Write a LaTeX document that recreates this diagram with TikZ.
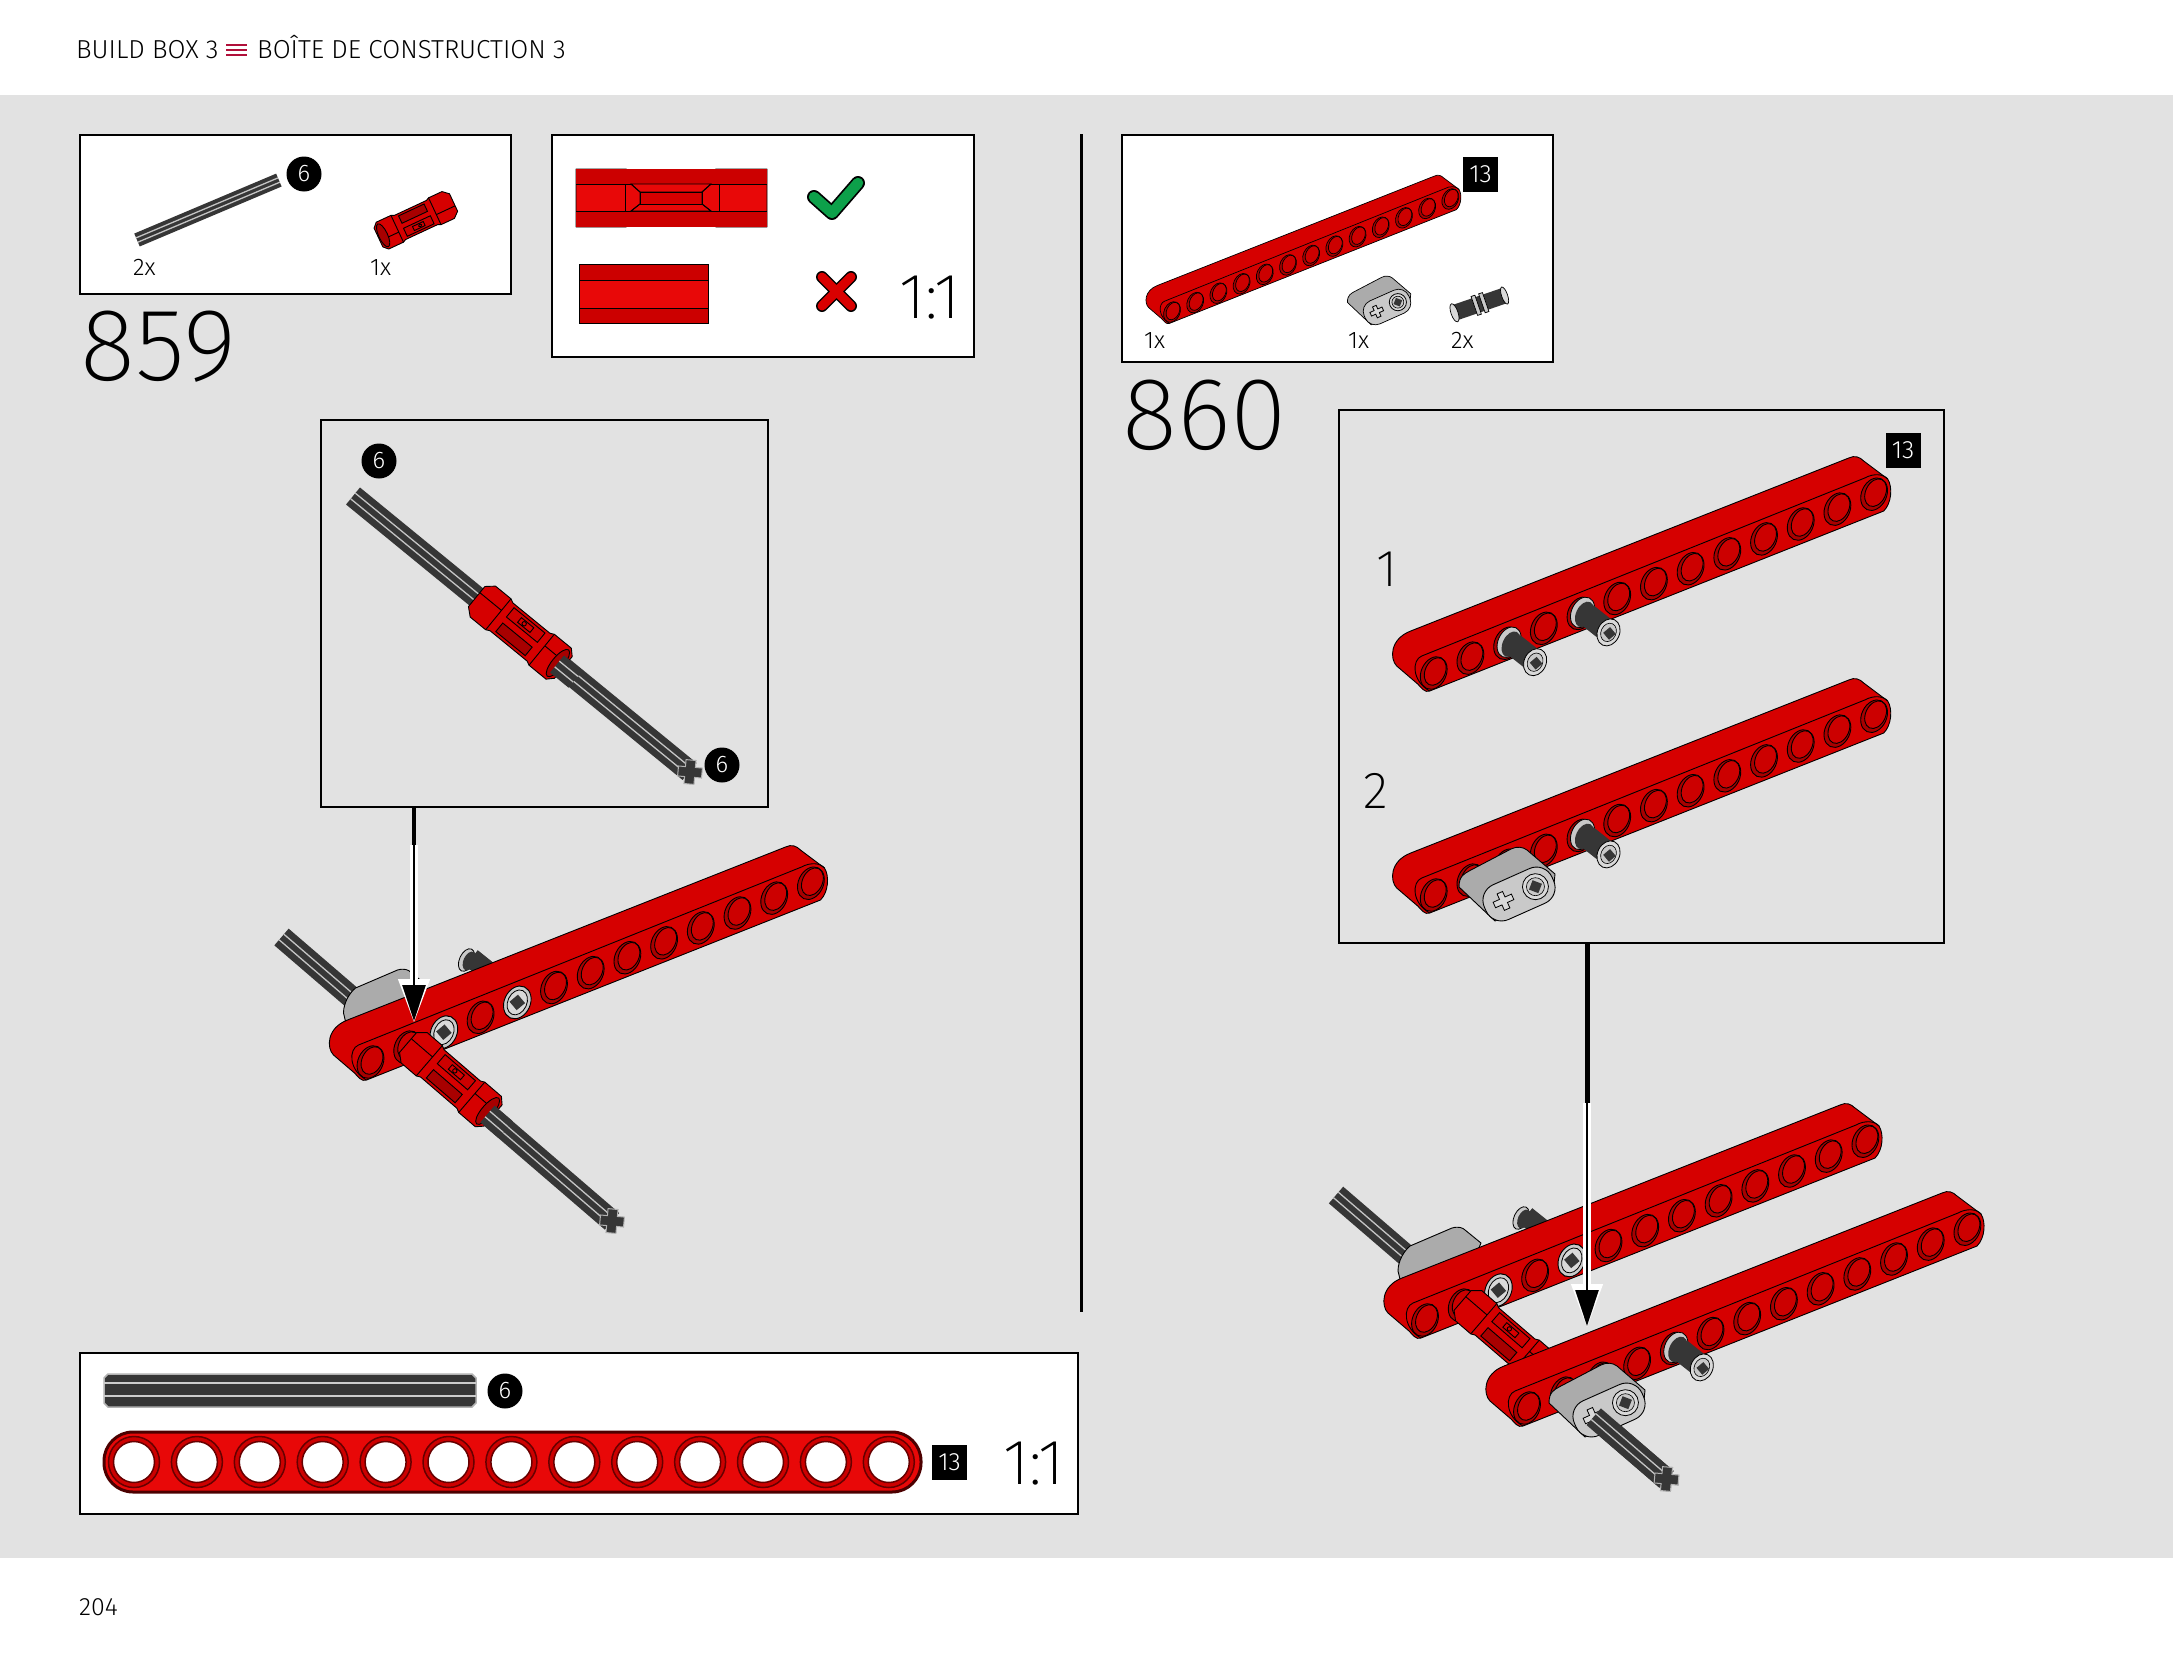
\documentclass[tikz,border=0pt]{standalone}
\usepackage{fontspec}
\usetikzlibrary{arrows.meta,calc}
\newfontfamily\lightf{Fira Sans Light}
\newfontfamily\thinf{Fira Sans ExtraLight}
\definecolor{pagegrey}{HTML}{E2E2E2}
\definecolor{redmain}{HTML}{D60000}
\definecolor{redhole}{HTML}{A80000}
\definecolor{redin}{HTML}{CC0000}
\definecolor{redbright}{HTML}{E80808}
\definecolor{axledark}{HTML}{363636}
\definecolor{axleline}{HTML}{C4C4C4}
\definecolor{greybody}{HTML}{ABABAB}
\definecolor{greyface}{HTML}{C9C9C9}
\definecolor{crimson}{HTML}{B0103A}
\definecolor{checkgreen}{HTML}{0DA04A}
\tikzset{
  ln/.style={line width=.9pt},
  panel/.style={draw=black,fill=white,line width=2.5pt,inner sep=0pt,outer sep=0pt,anchor=north west},
  framebox/.style={draw=black,line width=2.5pt,inner sep=0pt,outer sep=0pt,anchor=north west},
  lab/.style={inner sep=0pt,anchor=base west,text=black},
  circnum/.style={circle,fill=black,text=white,minimum size=35pt,inner sep=0pt,font=\lightf\fontsize{24}{24}\selectfont},
  sqnum/.style={fill=black,text=white,minimum size=35pt,inner sep=0pt,font=\lightf\fontsize{25}{25}\selectfont},
  parttxt/.style={lab,font=\lightf\fontsize{24}{24}\selectfont},
  bigstep/.style={lab,font=\thinf\fontsize{103}{103}\selectfont},
  ratio/.style={lab,font=\thinf\fontsize{64}{64}\selectfont},
  subnum/.style={lab,font=\thinf\fontsize{52}{52}\selectfont},
}
\newcommand\beamhole[2]{%
  \draw[ln,fill=redhole,shift={(#1,#2)},rotate=65] (0,0) ellipse [x radius=17,y radius=12.5];
  \draw[ln,fill=redin,shift={(#1+1.5,#2-1.5)},rotate=65] (0,0) ellipse [x radius=14.5,y radius=10];
}
\newcommand\beampart[3]{%
  \begin{scope}[shift={(#1,#2)},scale=#3]
    \draw[ln,fill=redmain,line join=round]
      (-4,18) .. controls (-9,20) and (-12,15) .. (-16,11) -- (-37,-7)
      .. controls (-44,-14) and (-44,-34) .. (-23,-42) -- (415,-215)
      .. controls (421,-218) and (426,-216) .. (430,-212) -- (454,-194)
      .. controls (459,-186) and (458,-170) .. (450,-162) -- cycle;
    \draw[ln] (-4,18) .. controls (-22,8) and (-22,-13) .. (-12,-17) -- (431,-195)
      .. controls (440,-200) and (450,-199) .. (454,-194);
    \foreach \i in {0,...,12} {\beamhole{\i*36.7}{\i*-14.9}}
  \end{scope}}
\newcommand\pinface[2]{%
  \begin{scope}[shift={(#1,#2)}]
    \draw[ln,fill=greyface,rotate=65] (0,0) ellipse [x radius=17,y radius=13];
    \draw[line width=.8pt,draw=black,fill=white!85!black,rotate=65] (0,0) ellipse [x radius=13,y radius=9.5];
    \fill[axledark,rotate=40] (-5.5,-5.5) rectangle (5.5,5.5);
  \end{scope}}
\newcommand\pinout[2]{%
  \begin{scope}[shift={(#1,#2)}]
    \draw[line width=.8pt,fill=greyface,shift={(2,-1)},rotate=65] (0,0) ellipse [x radius=16,y radius=11];
    \fill[axledark,shift={(4,1)},rotate=65] (0,0) ellipse [x radius=13.5,y radius=8.5];
    \draw[line width=23pt,axledark] (6,1) -- (25,16);
    \draw[line width=.8pt,fill=white!85!black,shift={(28,19)},rotate=65] (0,0) ellipse [x radius=14,y radius=11];
    \draw[line width=.6pt,fill=greyface,shift={(28,19)},rotate=65] (0,0) ellipse [x radius=9.5,y radius=7.5];
    \fill[axledark,shift={(29,20)},rotate=40] (-4.5,-4.5) rectangle (4.5,4.5);
  \end{scope}}
\newcommand\axlebody[5]{%
  \begin{scope}[shift={(#1,#2)},rotate=#3]
    \fill[axledark] (0,-#5/2) rectangle (#4,#5/2);
    \draw[line width=1.3pt,draw=axleline] (0,-#5/6) -- (#4,-#5/6) (0,#5/6) -- (#4,#5/6);
  \end{scope}}
\newcommand\axlecross[4]{%
  \begin{scope}[shift={(#1,#2)},rotate=#3,scale=#4]
    \draw[line width=1pt,draw=white!70!black,fill=axledark]
      (-5,-5) -- (-5,-12) -- (5,-12) -- (5,-5) -- (12,-5) -- (12,5) -- (5,5) -- (5,12) -- (-5,12) -- (-5,5) -- (-12,5) -- (-12,-5) -- cycle;
  \end{scope}}
\newcommand\coupling[4]{%
  \begin{scope}[shift={(#1,#2)},rotate=#3,scale=#4]
    \draw[ln,fill=redmain,line join=round]
      (-56,-13) -- (-48,-20) -- (-28,-20) -- (-24,-18) -- (24,-18) -- (28,-20) -- (50,-20) -- (56,-14)
      -- (56,14) -- (50,20) -- (28,20) -- (24,18) -- (-24,18) -- (-28,20) -- (-48,20) -- (-56,13) -- cycle;
    \draw[ln] (-56,-5) -- (-28,-5) (28,-5) -- (52,-5) (-28,-20) -- (-28,20) (28,-20) -- (28,20);
    \draw[ln,fill=redin] (-20,-15) rectangle (20,-3);
    \draw[ln,fill=redmain] (-8,-12) rectangle (8,-6);
    \draw[ln,fill=redhole] (-19,4) rectangle (19,15);
    \draw[ln] (-2,-9) circle [radius=2.2];
  \end{scope}}
\newcommand\couplingend[4]{%
  \begin{scope}[shift={(#1,#2)},rotate=#3,scale=#4]
    \draw[ln,fill=redhole] (49,0) ellipse [x radius=6,y radius=17];
  \end{scope}}
\newcommand\liftarm[3]{%
  \begin{scope}[shift={(#1,#2)},scale=#3]
    \draw[ln,fill=greybody,line join=round] (-60,-7) .. controls (-60,-18) and (-55,-20) .. (-50,-23) -- (-8,-45)
      .. controls (-2,-48) and (4,-47) .. (8,-44) -- (36,-20) -- (34,0) -- (-24,27) -- cycle;
    \begin{scope}[rotate=24]
      \draw[ln,fill=greyface,rounded corners=17*#3 pt] (-37,-19) rectangle (37,19);
      \draw[line width=.8pt,fill=white!85!black] (18,0) circle [radius=13];
      \draw[line width=.6pt,fill=greyface] (18,0) circle [radius=9];
      \fill[axledark,rotate around={45:(18,0)}] (13,-5) rectangle (23,5);
      \draw[line width=.8pt,fill=white!85!black,shift={(-17,0)}]
        (-3,-3) -- (-3,-9) -- (3,-9) -- (3,-3) -- (10,-3) -- (10,3) -- (3,3) -- (3,9) -- (-3,9) -- (-3,3) -- (-10,3) -- (-10,-3) -- cycle;
    \end{scope}
  \end{scope}}
\newcommand\backassembly[2]{%
  \begin{scope}[shift={(#1,#2)}]
    \axlebody{-89}{-125}{-40.7}{436}{22}
    \axlecross{241.5}{159}{-5}{1}
    \draw[ln,fill=greybody,line join=round] (-27,-49) .. controls (-27,-60) and (-20,-70) .. (-15,-74) -- (27,-92)
      .. controls (34,-94) and (38,-92) .. (40,-90) -- (56,-77) -- (40,-40) -- (-20,-20) -- cycle;
    \draw[line width=.8pt,fill=greyface,shift={(96,-102)},rotate=65] (0,0) ellipse [x radius=12,y radius=7];
    \fill[axledark,shift={(99,-101)},rotate=65] (0,0) ellipse [x radius=10,y radius=6];
    \draw[line width=20pt,axledark] (101,-104) -- (126,-84);
    \beampart{0}{0}{1}
    \pinface{73.4}{-29.8}
    \pinface{146.8}{-59.6}
    \coupling{80}{17}{-40.7}{1}
    \couplingend{80}{17}{-40.7}{1}
    \axlebody{117}{52}{-40.7}{24}{22}
  \end{scope}}
\begin{document}
\begin{tikzpicture}[x=1pt,y=-1pt]
\useasboundingbox (0,0) rectangle (2173,1654);
\fill[white] (0,0) rectangle (2173,1654);
\fill[pagegrey] (0,95) rectangle (2173,1558);

% header
\node[lab,font=\lightf\fontsize{26}{26}\selectfont] (hdA) at (76,59) {BUILD BOX 3};
\coordinate (barA) at (226,45);
\draw[crimson,line width=2.4pt] (barA) -- ++(21,0) ++(-21,5) -- ++(21,0) ++(-21,5) -- ++(21,0);
\node[lab,font=\lightf\fontsize{26}{26}\selectfont] (hdB) at (257,59) {BOÎTE DE CONSTRUCTION 3};
\node[lab,font=\lightf\fontsize{25}{25}\selectfont] (pageno) at (79,1615) {204};

% divider
\coordinate (divT) at (1081,134);
\coordinate (divB) at (1081,1312);
\draw[line width=3pt] (divT) -- (divB);

% box A
\node[panel,minimum width=431pt,minimum height=159pt] (boxA) at (80,135) {};
\axlebody{137}{240}{22.9}{154}{14}
\coupling{416}{220}{205}{0.74}
\couplingend{416}{220}{205}{0.74}
\node[circnum] (cA) at (304,174) {6};
\node[parttxt] (tA1) at (133,275) {2x};
\node[parttxt] (tA2) at (370,275) {1x};
\node[bigstep] (s859) at (80,380) {859};

% box B
\node[panel,minimum width=422pt,minimum height=222pt] (boxB) at (552,135) {};
\begin{scope}
  \draw[ln,fill=redbright,line join=round] (576,169) -- (626,169) -- (631,172) -- (711,172) -- (716,169) -- (767,169) -- (767,227) -- (716,227) -- (711,223) -- (631,223) -- (626,227) -- (576,227) -- cycle;
  \fill[redin] (576,169) rectangle (767,184);
  \fill[redin] (576,211) rectangle (767,227);
  \draw[ln] (576,184) -- (767,184) (576,211) -- (767,211) (625,184) -- (625,211) (719,184) -- (719,211);
  \draw[ln,fill=redbright] (631,184) -- (711,184) -- (702,192) -- (640,192) -- cycle;
  \draw[ln,fill=redbright] (631,211) -- (711,211) -- (702,204) -- (640,204) -- cycle;
  \draw[ln,fill=redmain] (640,192) rectangle (702,204);
  \draw[ln] (631,184) -- (640,192) -- (640,204) -- (631,211) (711,184) -- (702,192) -- (702,204) -- (711,211);
  \draw[ln,fill=redbright] (579,264) rectangle (708,323);
  \fill[redin] (579,264) rectangle (708,280);
  \fill[redin] (579,308) rectangle (708,323);
  \draw[ln] (579,280) -- (708,280) (579,308) -- (708,308) (579,264) rectangle (708,323);
\end{scope}
\coordinate (ck1) at (814,197);
\coordinate (ck2) at (832,213);
\coordinate (ck3) at (858,183);
\draw[line width=14pt,line cap=round,line join=round] (ck1) -- (ck2) -- (ck3);
\draw[line width=10.5pt,line cap=round,line join=round,checkgreen] (ck1) -- (ck2) -- (ck3);
\coordinate (xa) at (822,277);
\coordinate (xb) at (851,306);
\coordinate (xc) at (851,277);
\coordinate (xd) at (822,306);
\draw[line width=12pt,line cap=round] (xa) -- (xb) (xc) -- (xd);
\draw[line width=9pt,line cap=round,red!85!black] (xa) -- (xb) (xc) -- (xd);
\node[ratio] (rB) at (899,318) {1:1};

% box C
\node[framebox,minimum width=447pt,minimum height=387pt] (boxC) at (321,420) {};
\axlebody{353}{496}{-39.3}{435}{22}
\axlecross{690}{772}{-5}{1}
\coupling{520}{632}{-39.3}{1}
\couplingend{520}{632}{-39.3}{1}
\axlebody{557}{664}{-39.3}{24}{22}
\node[circnum] (cC1) at (379,461) {6};
\node[circnum] (cC2) at (722,765) {6};

% 859 assembly
\backassembly{370.5}{1062}

% arrow 859
\coordinate (arA) at (414,1023);
\coordinate (arAm) at (414,845);
\draw[line width=7.5pt,white,-{Triangle[length=44pt,width=30pt]}] (arAm) -- (arA);
\draw[line width=2.5pt,black,-{Triangle[length=36pt,width=23pt]}] (arAm) -- ($(arA)+(0,-2)$);
\draw[line width=4.5pt,black] (boxC.south -| arA) -- (arAm);

% box D
\node[panel,minimum width=998pt,minimum height=161pt] (boxD) at (80,1353) {};
\draw[line width=1.5pt,draw=white!70!black,fill=axledark] (108,1374) -- (472,1374) -- (476,1378) -- (476,1403) -- (472,1407) -- (108,1407) -- (104,1403) -- (104,1378) -- cycle;
\draw[line width=1.2pt,white!80!black] (104,1383) -- (476,1383) (104,1396) -- (476,1396);
\node[circnum] (cD) at (505,1391) {6};
\draw[line width=3pt,draw=black!70!red,fill=redbright,rounded corners=29pt] (104,1432) rectangle (921,1492);
\foreach \i in {0,...,12}{
  \draw[line width=1.5pt,draw=black!60!red,fill=redin] ({134+\i*62.9},1462) circle [radius=25.5];
  \draw[line width=1.5pt,draw=black!60!red,fill=white] ({134+\i*62.9},1462) circle [radius=20.5];
}
\node[sqnum] (qD) at (949.5,1462) {13};
\node[ratio] (rD) at (1003,1484) {1:1};

% box E
\node[panel,minimum width=431pt,minimum height=227pt] (boxE) at (1122,135) {};
\begin{scope}[ln/.style={line width=.7pt}]
  \beampart{1172}{312}{0.632}
  \liftarm{1387}{307}{0.66}
  \begin{scope}[shift={(1480,304)},rotate=19]
    \fill[axledark] (-27,-8) rectangle (26,8);
    \draw[line width=.7pt,fill=white!85!black] (-27,0) ellipse [x radius=3.5,y radius=9.5];
    \draw[line width=.7pt,fill=white!85!black] (26,0) ellipse [x radius=3,y radius=9];
    \draw[line width=.7pt,fill=greyface] (-6,-10) rectangle (-2,10);
    \draw[line width=.7pt,fill=greyface] (2,-10) rectangle (6,10);
  \end{scope}
\end{scope}
\node[sqnum] (qE) at (1480.5,174.5) {13};
\node[parttxt] (tE1) at (1144,348) {1x};
\node[parttxt] (tE2) at (1348,348) {1x};
\node[parttxt] (tE3) at (1451,348) {2x};
\node[bigstep] (s860) at (1122,449) {860};

% box F
\node[framebox,minimum width=605pt,minimum height=533pt] (boxF) at (1339,410) {};
\node[sqnum] (qF) at (1903,450.5) {13};
\node[subnum] (n1) at (1376,586) {1};
\node[subnum] (n2) at (1363,808) {2};
\beampart{1433.7}{673}{1}
\pinout{1507.1}{643.2}
\pinout{1580.5}{613.4}
\beampart{1433.7}{895}{1}
\pinout{1580.5}{835.4}
\liftarm{1519}{894}{1}

% final 860 assembly
\backassembly{1425}{1320}
\beampart{1527}{1408}{1}
\pinout{1673.8}{1348.4}
\liftarm{1609}{1410}{1}
\axlebody{1593.7}{1416.7}{-40.7}{96}{22}
\axlecross{1666.5}{1479}{-5}{1}

% arrow 860
\coordinate (arF) at (1587,1328);
\coordinate (arFm) at (1587,1103);
\draw[line width=7.5pt,white,-{Triangle[length=44pt,width=30pt]}] (arFm) -- (arF);
\draw[line width=2.5pt,black,-{Triangle[length=36pt,width=23pt]}] (arFm) -- ($(arF)+(0,-2)$);
\draw[line width=5pt,black] (boxF.south -| arF) -- (arFm);
\end{tikzpicture}
\end{document}
